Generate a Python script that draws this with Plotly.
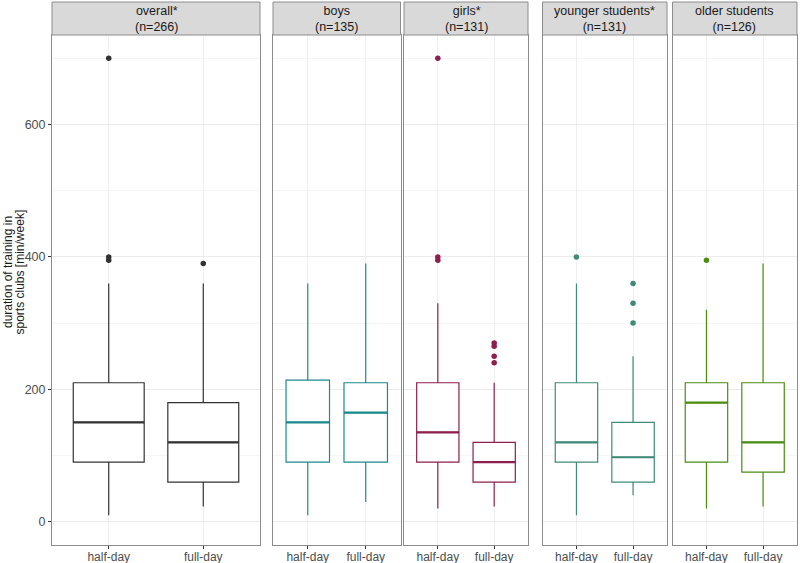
import plotly.graph_objects as go

# ---------------- data ----------------
panels = ["overall*<br>(n=266)", "boys<br>(n=135)", "girls*<br>(n=131)",
          "younger students*<br>(n=131)", "older students<br>(n=126)"]
categories = ["half-day", "full-day"]
colors = ["#333333", "#1B8A8C", "#8C1F4F", "#3F8A78", "#4B8C13"]

q1 = [[90, 60], [90, 90], [90, 60], [90, 60], [90, 75]]
median = [[150, 120], [150, 165], [135, 90], [120, 97.5], [180, 120]]
q3 = [[210, 180], [214, 210], [210, 120], [210, 150], [210, 210]]
lower = [[10, 23], [10, 30], [20, 23], [10, 40], [20, 23]]
upper = [[360, 360], [360, 390], [330, 210], [360, 250], [320, 390]]

# outliers: (category index, value) per panel
out_cat = [[0, 0, 0, 1], [], [0, 0, 0, 1, 1, 1, 1], [0, 1, 1, 1], [0]]
out_val = [[700, 400, 395, 390], [], [700, 400, 395, 270, 265, 250, 240],
           [400, 360, 330, 300], [395]]

y_ticks = [0, 200, 400, 600]
y_title_lines = ["duration of training in", "sports clubs [min/week]"]

# ---------------- layout geometry ----------------
W, H = 800, 563
ml, mr, mt, mb = 52, 3, 35, 18
pw = W - ml - mr
panel_px = [(52, 260), (273, 400.5), (404, 528), (542.5, 667), (672.5, 797)]
domains = [[(a - ml) / pw, (b - ml) / pw] for a, b in panel_px]

fig = go.Figure()
box_w = 0.75
for i in range(len(panels)):
    xa = "x" if i == 0 else f"x{i+1}"
    ya = "y" if i == 0 else f"y{i+1}"
    xs = list(range(len(categories)))
    fig.add_trace(go.Box(
        x=xs, q1=q1[i], median=median[i], q3=q3[i],
        lowerfence=lower[i], upperfence=upper[i],
        width=box_w, boxpoints=False,
        fillcolor="white", line=dict(color=colors[i], width=1.2),
        whiskerwidth=0, xaxis=xa, yaxis=ya, showlegend=False, hoverinfo="skip"))
    # thicker median lines
    mx, my = [], []
    for j, m in enumerate(median[i]):
        mx += [j - box_w / 2, j + box_w / 2, None]
        my += [m, m, None]
    fig.add_trace(go.Scatter(x=mx, y=my, mode="lines",
                             line=dict(color=colors[i], width=2.2),
                             xaxis=xa, yaxis=ya, showlegend=False, hoverinfo="skip"))
    if out_val[i]:
        fig.add_trace(go.Scatter(x=out_cat[i], y=out_val[i], mode="markers",
                                 marker=dict(color=colors[i], size=5.5),
                                 xaxis=xa, yaxis=ya, showlegend=False, hoverinfo="skip"))

font_family = "Liberation Sans, Arial, sans-serif"
layout = dict(
    width=W, height=H,
    margin=dict(l=ml, r=mr, t=mt, b=mb, autoexpand=False),
    paper_bgcolor="white", plot_bgcolor="white",
    font=dict(family=font_family, size=12, color="#1A1A1A"),
)
for i in range(len(panels)):
    xk = "xaxis" if i == 0 else f"xaxis{i+1}"
    yk = "yaxis" if i == 0 else f"yaxis{i+1}"
    layout[xk] = dict(
        domain=domains[i], range=[-0.6, 1.6], automargin=False,
        tickvals=list(range(len(categories))), ticktext=categories,
        showgrid=True, gridcolor="#EFEFEF", gridwidth=1,
        zeroline=False, showline=True, mirror=True, linecolor="#8C8C8C", linewidth=1,
        ticks="outside", ticklen=3, tickcolor="#333333",
        ticklabelstandoff=-2,
        tickfont=dict(size=12, color="#4D4D4D"),
        anchor="y" if i == 0 else f"y{i+1}",
    )
    layout[yk] = dict(
        domain=[0, 1], range=[-35, 735], automargin=False,
        tickvals=y_ticks, showgrid=True, gridcolor="#EBEBEB", gridwidth=1,
        minor=dict(dtick=100, tick0=0, showgrid=True, gridcolor="#F5F5F5", gridwidth=1),
        zeroline=False, showline=True, mirror=True, linecolor="#8C8C8C", linewidth=1,
        showticklabels=(i == 0), ticks="outside" if i == 0 else "",
        ticklen=3, tickcolor="#333333",
        tickfont=dict(size=12.5, color="#4D4D4D"),
        anchor="x" if i == 0 else f"x{i+1}",
    )
    if i > 0:
        layout[yk]["matches"] = "y"
fig.update_layout(**layout)

ph = H - mt - mb
# y-axis title: two tightly spaced lines, centred on panel + strip height
for k, (line, cx) in enumerate(zip(y_title_lines, [8, 19.5])):
    fig.add_annotation(xref="paper", yref="paper", x=-(ml - cx) / pw,
                       y=1 - (272 - mt) / ph, text=line, textangle=-90,
                       showarrow=False, font=dict(size=12, color="#1A1A1A"),
                       xanchor="center", yanchor="middle", align="center")

# strips
strip_top = 1 + (mt - 2) / ph
for i, lab in enumerate(panels):
    d0, d1 = domains[i]
    fig.add_shape(type="rect", xref="paper", yref="paper",
                  x0=d0, x1=d1, y0=1, y1=strip_top,
                  fillcolor="#D9D9D9", line=dict(color="#8C8C8C", width=1))
    fig.add_annotation(xref="paper", yref="paper", x=(d0 + d1) / 2,
                       y=(1 + strip_top) / 2, text=lab, showarrow=False,
                       font=dict(size=12.5, color="#1A1A1A"), yanchor="middle",
                       xanchor="center", align="center")

fig.write_html("out.html", config={"displayModeBar": False},
               post_script="document.body.style.margin='0';document.body.style.overflow='hidden';")
